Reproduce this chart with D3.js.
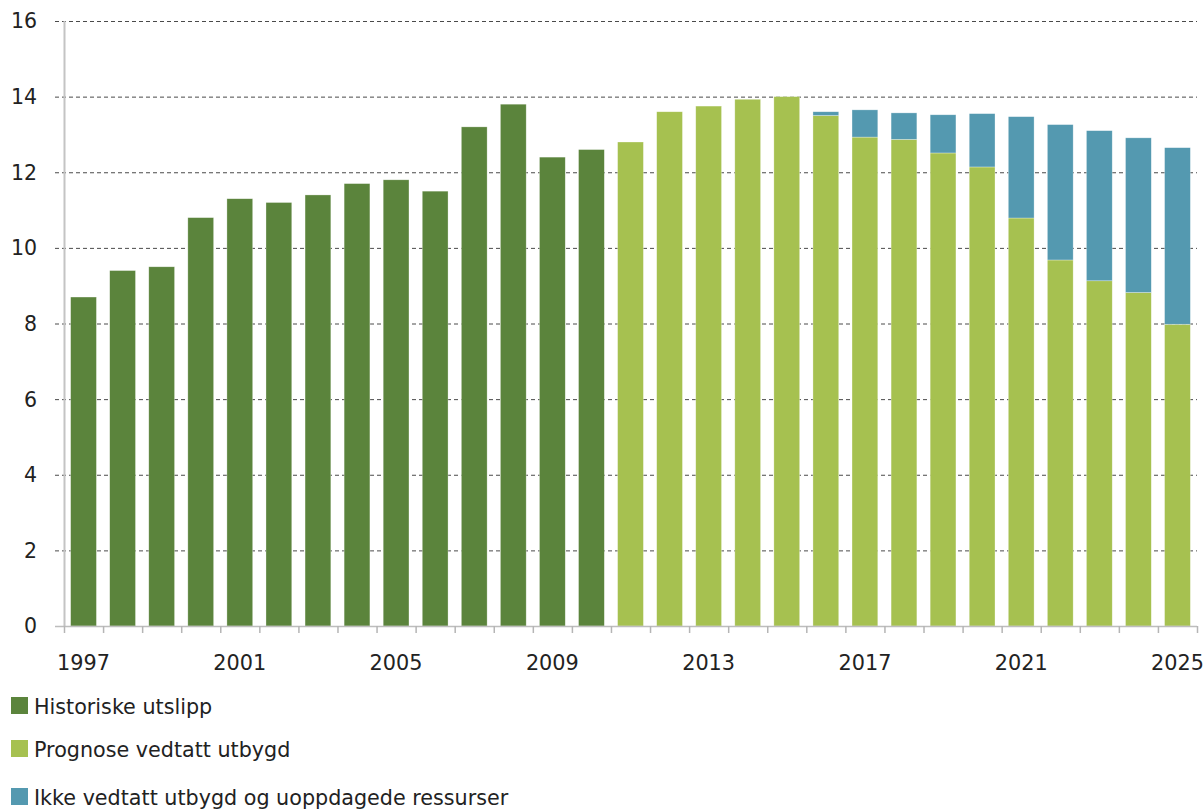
<!DOCTYPE html>
<html>
<head>
<meta charset="utf-8">
<script src="https://cdn.jsdelivr.net/npm/d3@7"></script>
<style>
  body { margin: 0; background: #fff; }
  svg text { font-family: "DejaVu Sans", Verdana, sans-serif; fill: #222; }
</style>
</head>
<body>
<div id="chart"></div>
<script>
// Data
const years = d3.range(1997, 2026);
const historiske = [8.7, 9.4, 9.5, 10.8, 11.3, 11.2, 11.4, 11.7, 11.8, 11.5, 13.2, 13.8, 12.4, 12.6,
  0, 0, 0, 0, 0, 0, 0, 0, 0, 0, 0, 0, 0, 0, 0];
const prognose = [0, 0, 0, 0, 0, 0, 0, 0, 0, 0, 0, 0, 0, 0,
  12.8, 13.6, 13.75, 13.93, 14.0, 13.5, 12.93, 12.87, 12.51, 12.14, 10.79, 9.68, 9.13, 8.82, 7.98];
const ikkeVedtatt = [0, 0, 0, 0, 0, 0, 0, 0, 0, 0, 0, 0, 0, 0,
  0, 0, 0, 0, 0, 0.1, 0.72, 0.7, 1.01, 1.41, 2.68, 3.58, 3.97, 4.09, 4.67];
const xTickYears = [1997, 2001, 2005, 2009, 2013, 2017, 2021, 2025];
const yTicks = [0, 2, 4, 6, 8, 10, 12, 14, 16];

const seriesNames = ["Historiske utslipp", "Prognose vedtatt utbygd", "Ikke vedtatt utbygd og uoppdagede ressurser"];
const seriesKeys = ["hist", "prog", "ikke"];
const colors = { hist: "#5b843c", prog: "#a6c150", ikke: "#5499b0" };

// Layout
const W = 1203, H = 810;
const M = { l: 64, r: 6, t: 21, b: 184 };
const plotW = W - M.l - M.r, plotH = H - M.t - M.b;

const rows = years.map((y, i) => ({ year: y, hist: historiske[i], prog: prognose[i], ikke: ikkeVedtatt[i] }));
const stacked = d3.stack().keys(seriesKeys)(rows);

const svg = d3.select('#chart').append('svg')
  .attr('width', W).attr('height', H);

const x = d3.scaleBand().domain(years).range([M.l, M.l + plotW]).paddingInner(0.34).paddingOuter(0.17);
const y = d3.scaleLinear().domain([0, 16]).range([M.t + plotH, M.t]);

// Gridlines
svg.append('g').selectAll('line').data(yTicks.filter(d => d > 0)).enter().append('line')
  .attr('x1', M.l - 9).attr('x2', M.l + plotW)
  .attr('y1', d => y(d) + 0.5).attr('y2', d => y(d) + 0.5)
  .attr('stroke', '#4a4a4a').attr('stroke-width', 1)
  .attr('stroke-dasharray', '4,3');

// Y axis line
svg.append('line')
  .attr('x1', M.l + 0.5).attr('x2', M.l + 0.5)
  .attr('y1', y(16)).attr('y2', y(0))
  .attr('stroke', '#c4c4c4').attr('stroke-width', 2);

// Y labels
svg.append('g').selectAll('text').data(yTicks).enter().append('text')
  .attr('x', 37).attr('y', d => y(d))
  .attr('dy', '0.36em')
  .attr('text-anchor', 'end')
  .attr('font-size', 20.5)
  .text(d => d);

// Bars
svg.append('g').selectAll('g').data(stacked).enter().append('g')
  .attr('fill', d => colors[d.key])
  .selectAll('rect').data(d => d.filter(p => p[1] - p[0] > 0)).enter().append('rect')
  .attr('x', d => x(d.data.year))
  .attr('width', x.bandwidth())
  .attr('y', d => y(d[1]))
  .attr('height', d => y(d[0]) - y(d[1]))
  .attr('stroke', 'rgba(255,255,255,0.5)')
  .attr('stroke-width', 0.6);

// X axis line and ticks
const step = x.step();
svg.append('line')
  .attr('x1', M.l - 9).attr('x2', M.l + plotW)
  .attr('y1', y(0) + 0.5).attr('y2', y(0) + 0.5)
  .attr('stroke', '#bdbdbd').attr('stroke-width', 1.5);

svg.append('g').selectAll('line').data(d3.range(years.length + 1)).enter().append('line')
  .attr('x1', i => M.l + i * step + 0.5).attr('x2', i => M.l + i * step + 0.5)
  .attr('y1', y(0)).attr('y2', y(0) + 7)
  .attr('stroke', '#b5b5b5').attr('stroke-width', 1.5);

svg.append('g').selectAll('text').data(xTickYears).enter().append('text')
  .attr('x', d => x(d) + x.bandwidth() / 2)
  .attr('y', y(0) + 44)
  .attr('text-anchor', 'middle')
  .attr('font-size', 20.8)
  .text(d => d);

// Legend
const legend = svg.append('g').selectAll('g').data(seriesKeys).enter().append('g')
  .attr('transform', (d, i) => `translate(11, ${[714, 757, 805][i]})`);
legend.append('rect')
  .attr('x', 0).attr('y', -17).attr('width', 17).attr('height', 17)
  .attr('fill', d => colors[d]);
legend.append('text')
  .attr('x', 23).attr('y', 0)
  .attr('font-size', 20.7)
  .text((d, i) => seriesNames[i]);
</script>
</body>
</html>
